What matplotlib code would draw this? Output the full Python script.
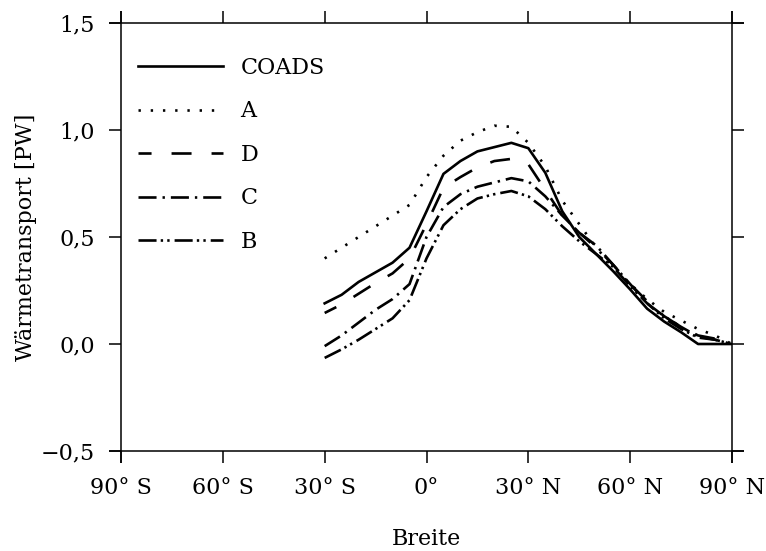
import matplotlib
matplotlib.use("Agg")
import matplotlib.pyplot as plt
from matplotlib.lines import Line2D

plt.rcParams['font.family'] = ['DejaVu Serif']
plt.rcParams['lines.scale_dashes'] = False

lat = [-30, -25, -20, -15, -10, -5, 0, 5, 10, 15, 20, 25, 30, 35, 40, 45,
       50, 55, 60, 65, 70, 75, 80, 85, 90]

coads = [0.19, 0.23, 0.29, 0.335, 0.38, 0.45, 0.62, 0.795, 0.855, 0.90, 0.92, 0.94, 0.915,
         0.80, 0.62, 0.50, 0.42, 0.34, 0.255, 0.165, 0.105, 0.055, 0.0, 0.0, 0.0]
a_vals = [0.40, 0.45, 0.50, 0.55, 0.60, 0.65, 0.78, 0.88, 0.95, 0.99, 1.02, 1.015, 0.94,
          0.83, 0.67, 0.56, 0.45, 0.36, 0.28, 0.21, 0.15, 0.11, 0.07, 0.04, 0.0]
d_vals = [0.145, 0.185, 0.235, 0.285, 0.33, 0.40, 0.56, 0.73, 0.78, 0.825, 0.855, 0.865, 0.84,
          0.72, 0.60, 0.52, 0.45, 0.37, 0.28, 0.20, 0.13, 0.08, 0.04, 0.025, 0.0]
c_vals = [-0.01, 0.04, 0.10, 0.16, 0.21, 0.28, 0.50, 0.64, 0.70, 0.735, 0.755, 0.775, 0.76,
          0.69, 0.60, 0.52, 0.46, 0.37, 0.28, 0.19, 0.13, 0.08, 0.035, 0.02, 0.0]
b_vals = [-0.065, -0.025, 0.02, 0.07, 0.12, 0.205, 0.40, 0.555, 0.63, 0.68, 0.70, 0.715, 0.69,
          0.63, 0.55, 0.48, 0.42, 0.36, 0.27, 0.19, 0.12, 0.07, 0.03, 0.02, 0.0]

series_names = ["COADS", "A", "D", "C", "B"]

xticks = [-90, -60, -30, 0, 30, 60, 90]
xticklabels = ["90° S", "60° S", "30° S", "0°", "30° N", "60° N", "90° N"]
yticks = [-0.5, 0.0, 0.5, 1.0, 1.5]
yticklabels = ["\u22120,5", "0,0", "0,5", "1,0", "1,5"]

W, H = 766, 551
fig = plt.figure(figsize=(W / 100, H / 100), dpi=100)
ax = fig.add_axes([121 / W, 1 - 451 / H, (732 - 121) / W, (451 - 23) / H])

FS = 16
lw = 1.9
styles = [
    '-',
    (0, (1.7, 7.1)),
    (5, (14.4, 14.4)),
    (0, (13.0, 4.3, 1.7, 4.3)),
    (0, (13.0, 3.0, 1.7, 3.0, 1.7, 3.6)),
]
data = [coads, a_vals, d_vals, c_vals, b_vals]
for name, vals, ls in zip(series_names, data, styles):
    ax.plot(lat, vals, color='black', lw=lw, linestyle=ls, label=name)

ax.set_xlim(-90, 90)
ax.set_ylim(-0.5, 1.5)
ax.set_xticks(xticks)
ax.set_xticklabels(xticklabels)
ax.set_yticks(yticks)
ax.set_yticklabels(yticklabels)

for s in ax.spines.values():
    s.set_visible(False)

ext_x = 12 / 611
ext_y = 12 / 428
for xs, ys in [([-ext_x, 1 + ext_x], [0, 0]), ([-ext_x, 1 + ext_x], [1, 1]),
               ([0, 0], [-ext_y, 1 + ext_y]), ([1, 1], [-ext_y, 1 + ext_y])]:
    ax.add_line(Line2D(xs, ys, transform=ax.transAxes, color='black', lw=1.1,
                       clip_on=False, solid_capstyle='butt'))

ax.tick_params(direction='out', length=8.6, width=1.1, top=True, right=True,
               labeltop=False, labelright=False, labelsize=FS)
ax.tick_params(axis='y', pad=10)
ax.tick_params(axis='x', pad=10)

ax.set_xlabel("Breite", fontsize=FS, labelpad=21)
ax.set_ylabel("Wärmetransport [PW]", fontsize=FS, labelpad=3)

ax.legend(loc='upper left', bbox_to_anchor=(0.028, 0.921), frameon=False,
          fontsize=FS, handlelength=3.8, handletextpad=0.8, labelspacing=0.97,
          borderaxespad=0, borderpad=0)

fig.savefig("out.png", dpi=100)
